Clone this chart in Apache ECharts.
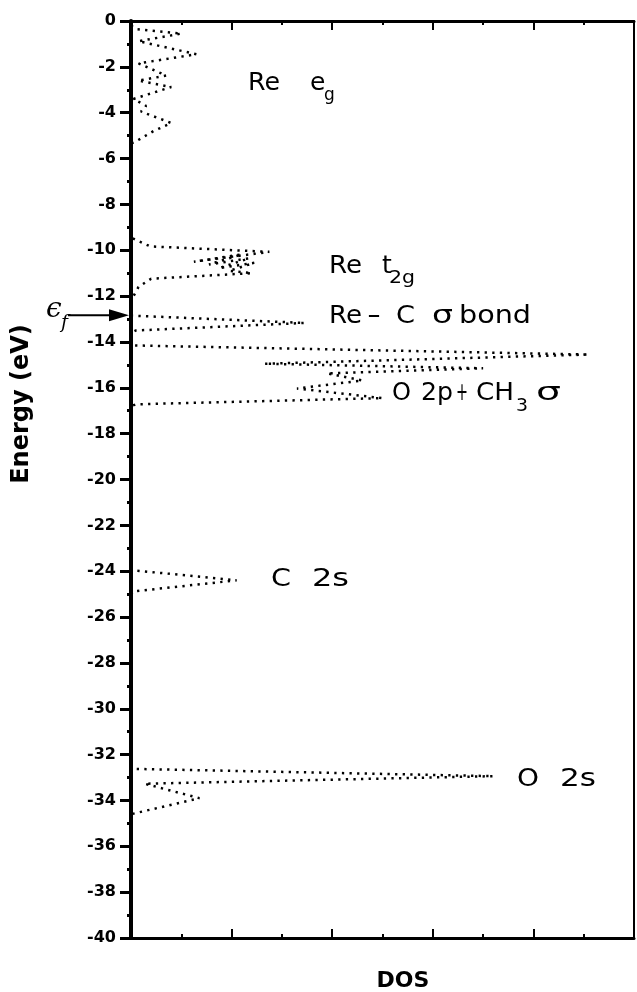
<!DOCTYPE html>
<html>
<head>
<meta charset="utf-8">
<script src="https://cdn.jsdelivr.net/npm/echarts@6/dist/echarts.min.js"></script>
<style>
  html, body { margin: 0; padding: 0; background: #fff; }
  #chart { width: 637px; height: 992px; }
</style>
</head>
<body>
<div id="chart"></div>
<script>
// Energy axis ticks (eV)
const energyTicks = [0, -2, -4, -6, -8, -10, -12, -14, -16, -18, -20, -22, -24, -26, -28, -30, -32, -34, -36, -38, -40];
// DOS axis ticks (arbitrary units, unlabeled)
const dosTicks = [0, 2, 4, 6, 8, 10];

// Re e_g band
const dosEg    = [0, 0.1, 1.0, 0.15, 1.3, 0.15, 0.7, 0.15, 0.8, 0.05, 0.3, 0.2, 0.8, 0.45, 0.1, 0];
const energyEg = [-0.2, -0.35, -0.55, -0.88, -1.45, -1.85, -2.38, -2.6, -2.88, -3.4, -3.7, -3.95, -4.45, -4.8, -5.25, -5.35];
// Re t_2g band
const dosT2g    = [0, 0.38, 2.75, 1.25, 2.2, 1.55, 2.35, 1.75, 2.45, 1.95, 2.4, 0.4, 0.15, 0];
const energyT2g = [-9.45, -9.83, -10.07, -10.5, -10.18, -10.62, -10.35, -10.78, -10.55, -10.9, -11.0, -11.24, -11.6, -12.2];
// Re-C sigma bond
const dosReC    = [0, 3.45, 0.1, 0];
const energyReC = [-12.85, -13.17, -13.5, -13.6];
// O 2p + CH3 sigma
const dosO2p    = [0, 9.1, 2.65, 7.0, 3.9, 4.6, 3.3, 5.0, 0.1, 0];
const energyO2p = [-14.15, -14.55, -14.95, -15.15, -15.37, -15.68, -16.03, -16.45, -16.72, -16.8];
// C 2s
const dosC2s    = [0, 2.1, 0.05, 0];
const energyC2s = [-23.95, -24.4, -24.88, -25.0];
// O 2s
const dosO2s    = [0, 7.2, 0.27, 1.36, 0];
const energyO2s = [-32.62, -32.94, -33.27, -33.9, -34.6];

// Fermi level (eV)
const fermiEnergy = -12.84;

const dosAll = [].concat(dosEg, dosT2g, dosReC, dosO2p, dosC2s, dosO2s);
const energyAll = [].concat(energyEg, energyT2g, energyReC, energyO2p, energyC2s, energyO2s);
const curve = dosAll.map((d, i) => [d, energyAll[i]]);

const chart = echarts.init(document.getElementById('chart'), null, { renderer: 'canvas' });

const boldFont = '"DejaVu Sans", sans-serif';
const textFont = '"DejaVu Sans", sans-serif';

const xAxisBase = {
  type: 'value',
  min: dosTicks[0],
  max: dosTicks[dosTicks.length - 1],
  interval: dosTicks[1] - dosTicks[0],
  axisLabel: { show: false },
  splitLine: { show: false },
  axisLine: { show: true, onZero: false, lineStyle: { color: '#000', width: 3 } },
  axisTick: { show: true, inside: true, length: 9, lineStyle: { color: '#000', width: 2 } },
  minorTick: { show: true, splitNumber: 2, length: 4, lineStyle: { color: '#000', width: 2 } }
};

const option = {
  backgroundColor: '#fff',
  animation: false,
  grid: { left: 131, right: 3, top: 21, bottom: 54, containLabel: false },
  xAxis: [
    Object.assign({}, xAxisBase, { position: 'bottom' }),
    Object.assign({}, xAxisBase, { position: 'top' })
  ],
  yAxis: [
    {
      type: 'value',
      position: 'left',
      min: energyTicks[energyTicks.length - 1],
      max: energyTicks[0],
      interval: energyTicks[0] - energyTicks[1],
      splitLine: { show: false },
      axisLine: { show: true, onZero: false, lineStyle: { color: '#000', width: 4 } },
      axisTick: { show: true, inside: false, length: 11, lineStyle: { color: '#000', width: 3 } },
      minorTick: { show: true, splitNumber: 2, length: 4, lineStyle: { color: '#000', width: 3 } },
      axisLabel: {
        margin: 15,
        fontFamily: boldFont, fontWeight: 'bold', fontSize: 16, color: '#000',
        formatter: v => String(v)
      }
    },
    {
      type: 'value',
      position: 'right',
      min: energyTicks[energyTicks.length - 1],
      max: energyTicks[0],
      interval: energyTicks[0] - energyTicks[1],
      splitLine: { show: false },
      axisLine: { show: true, onZero: false, lineStyle: { color: '#000', width: 2 } },
      axisTick: { show: false },
      axisLabel: { show: false }
    }
  ],
  series: [{
    type: 'line',
    data: curve,
    xAxisIndex: 0,
    yAxisIndex: 0,
    showSymbol: false,
    symbol: 'none',
    clip: false,
    lineStyle: { color: '#000', width: 2.5, type: [2.3, 5.3], cap: 'butt' },
    z: 3
  }]
};

chart.setOption(option);

// ---- annotations ----
const measureCtx = document.createElement('canvas').getContext('2d');

// Text piece spanning [x0, x1] horizontally, sitting on the given baseline.
function piece(text, x0, x1, baseline, size, weight) {
  const font = (weight ? weight + ' ' : '') + size + 'px ' + textFont;
  measureCtx.font = font;
  const w = measureCtx.measureText(text).width;
  const sx = x1 ? (x1 - x0) / w : 1;
  return {
    type: 'text', x: x0, y: baseline - 0.35 * size, scaleX: sx, z: 10,
    style: { text: text, font: font, fill: '#000', textAlign: 'left', textVerticalAlign: 'middle' }
  };
}

const fermiY = chart.convertToPixel({ yAxisIndex: 0 }, fermiEnergy);
const axisX = chart.convertToPixel({ xAxisIndex: 0 }, 0);

chart.setOption({
  graphic: [
    // Re e_g
    piece('Re', 248, 280, 92, 25), piece('e', 310, 0, 92, 25), piece('g', 324, 0, 102, 17),
    // Re t_2g
    piece('Re', 329, 362, 275, 25), piece('t', 382, 0, 275, 25), piece('2g', 389, 415, 285, 17),
    // Re-C sigma bond
    piece('Re', 329, 362, 325, 25), piece('-', 367, 381, 325, 25), piece('C', 396, 415, 325, 25),
    piece('σ', 432, 453, 325, 25), piece('bond', 459, 531, 325, 25),
    // O 2p + CH3 sigma
    piece('O', 392, 411, 402, 25), piece('2p', 421, 453, 402, 25), piece('+', 456, 468, 402, 25),
    piece('CH', 476, 514, 402, 25), piece('3', 516, 528, 413, 18), piece('σ', 536, 561, 402, 25),
    // C 2s
    piece('C', 271, 291, 588, 25), piece('2s', 312, 349, 588, 25),
    // O 2s
    piece('O', 517, 539, 788, 25), piece('2s', 560, 596, 788, 25),
    // axis titles
    {
      type: 'text', x: 22, y: 404, rotation: Math.PI / 2, z: 10,
      style: { text: 'Energy (eV)', font: 'bold 24px ' + boldFont, fill: '#000', textAlign: 'center', textVerticalAlign: 'middle' }
    },
    {
      type: 'text', x: 403, y: 981, z: 10,
      style: { text: 'DOS', font: 'bold 22px ' + boldFont, fill: '#000', textAlign: 'center', textVerticalAlign: 'middle' }
    },
    // Fermi level marker
    {
      type: 'text', x: 46, y: 310, z: 10,
      style: { text: 'ϵ', font: 'italic 28px "DejaVu Serif", serif', fill: '#000', textAlign: 'left', textVerticalAlign: 'middle' }
    },
    {
      type: 'text', x: 61, y: 323, z: 10,
      style: { text: 'f', font: 'italic 19px "DejaVu Serif", serif', fill: '#000', textAlign: 'left', textVerticalAlign: 'middle' }
    },
    {
      type: 'line', z: 10,
      shape: { x1: 68, y1: fermiY, x2: axisX - 16, y2: fermiY },
      style: { stroke: '#000', lineWidth: 2 }
    },
    {
      type: 'polygon', z: 10,
      shape: { points: [[axisX - 2, fermiY], [axisX - 22, fermiY - 6], [axisX - 22, fermiY + 6]] },
      style: { fill: '#000' }
    }
  ]
});
</script>
</body>
</html>
